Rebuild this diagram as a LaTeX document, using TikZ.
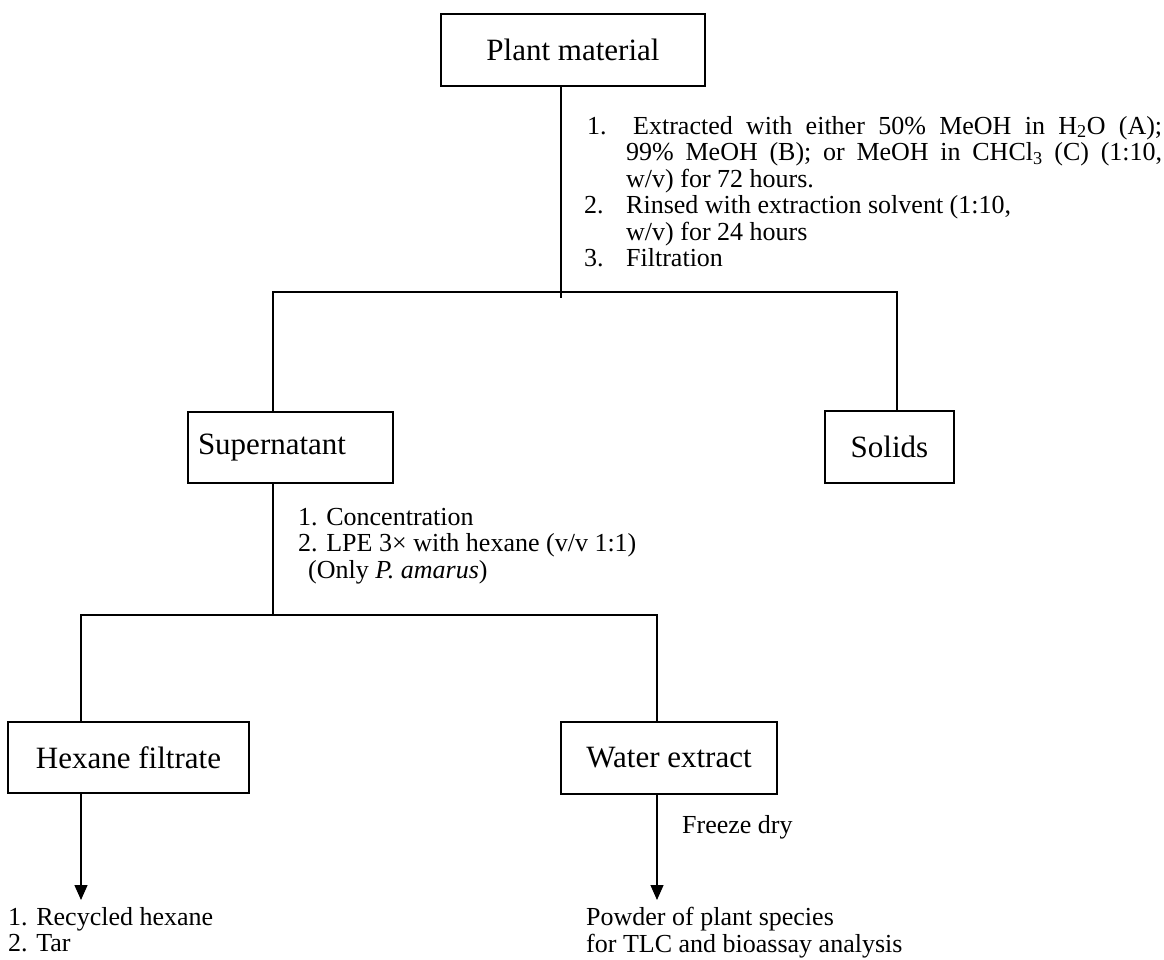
\documentclass[tikz,border=0pt]{standalone}
\usepackage{fontspec}
\setmainfont{Liberation Serif}
\usetikzlibrary{
  arrows.meta,
  positioning
}
\newcommand{\boxfont}{\fontsize{31}{36}\selectfont}
\newcommand{\notefont}{\fontsize{26}{26.5}\selectfont}

\begin{document}
\begin{tikzpicture}[x=1pt,y=-1pt,
      stage/.style={
         rectangle,
         draw,
         line width=1.3pt,
         minimum height=72pt,
         inner sep=0pt,
         font=\boxfont
      },
      note/.style={
         inner sep=0pt,
         anchor=north west,
         align=left,
         font=\notefont
      },
      link/.style={line width=1.3pt},
      tip/.style={link,-{Triangle[width=13pt,length=15pt]}}
    ]
    \useasboundingbox (0,0) rectangle (1164,960);
    % boxes
    \node (plant)  [stage, minimum width=264pt] at (573,50) {Plant material};
    \node (super)  [stage, text width=185pt, inner xsep=10pt, minimum height=71pt] at (290.5,447.5) {Supernatant};
    \node (solids) [stage, minimum width=129pt] at (889.5,447) {Solids};
    \node (hexane) [stage, minimum width=241pt, minimum height=71pt] at (128.5,757.5) {Hexane filtrate};
    \node (water)  [stage, minimum width=216pt] at (669,758) {Water extract};
    % notes
    \node (extract) [note, text width=578pt, align=none] at (584,116) {%
       \noindent\hangindent=42pt\hangafter=1\makebox[49pt][l]{\hspace*{3pt}1.}Extracted with either 50\% MeOH in H\textsubscript{2}O (A);\linebreak
       99\% MeOH (B); or MeOH in CHCl\textsubscript{3} (C) (1:10,\linebreak
       w/v) for 72 hours.\par
       \noindent\hangindent=42pt\hangafter=1\makebox[42pt][l]{2.}Rinsed with extraction solvent (1:10,\newline
       w/v) for 24 hours\par
       \noindent\makebox[42pt][l]{3.}Filtration\par};
    \node (conc)   [note] at (298,508) {1. Concentration\\2. LPE 3× with hexane (v/v 1:1)\\\hspace*{10pt}(Only \textit{P. amarus})};
    \node (dry)    [note] at (682,815) {Freeze dry};
    \node (hexout) [note] at (8,907) {1. Recycled hexane\\2. Tar};
    \node (powder) [note] at (586,907) {Powder of plant species\\for TLC and bioassay analysis};
    % forks
    \coordinate (f1)  at (561,292);
    \coordinate (f1l) at (273,292);
    \coordinate (f1r) at (897,292);
    \coordinate (f2)  at (273,615);
    \coordinate (f2l) at (81,615);
    \coordinate (f2r) at (657,615);
    \draw[link] (f1 |- plant.south) -- ([yshift=-6pt]f1);
    \draw[link] (f1l |- super.north) -- (f1l) -- (f1r) -- (f1r |- solids.north);
    \draw[link] (f2 |- super.south) -- (f2);
    \draw[link] (f2l |- hexane.north) -- (f2l) -- (f2r) -- (f2r |- water.north);
    % arrows
    \coordinate (hexend)   at (81,900);
    \coordinate (waterend) at (657,900);
    \draw[tip] (hexend |- hexane.south) -- (hexend);
    \draw[tip] (waterend |- water.south) -- (waterend);
\end{tikzpicture}
\end{document}
